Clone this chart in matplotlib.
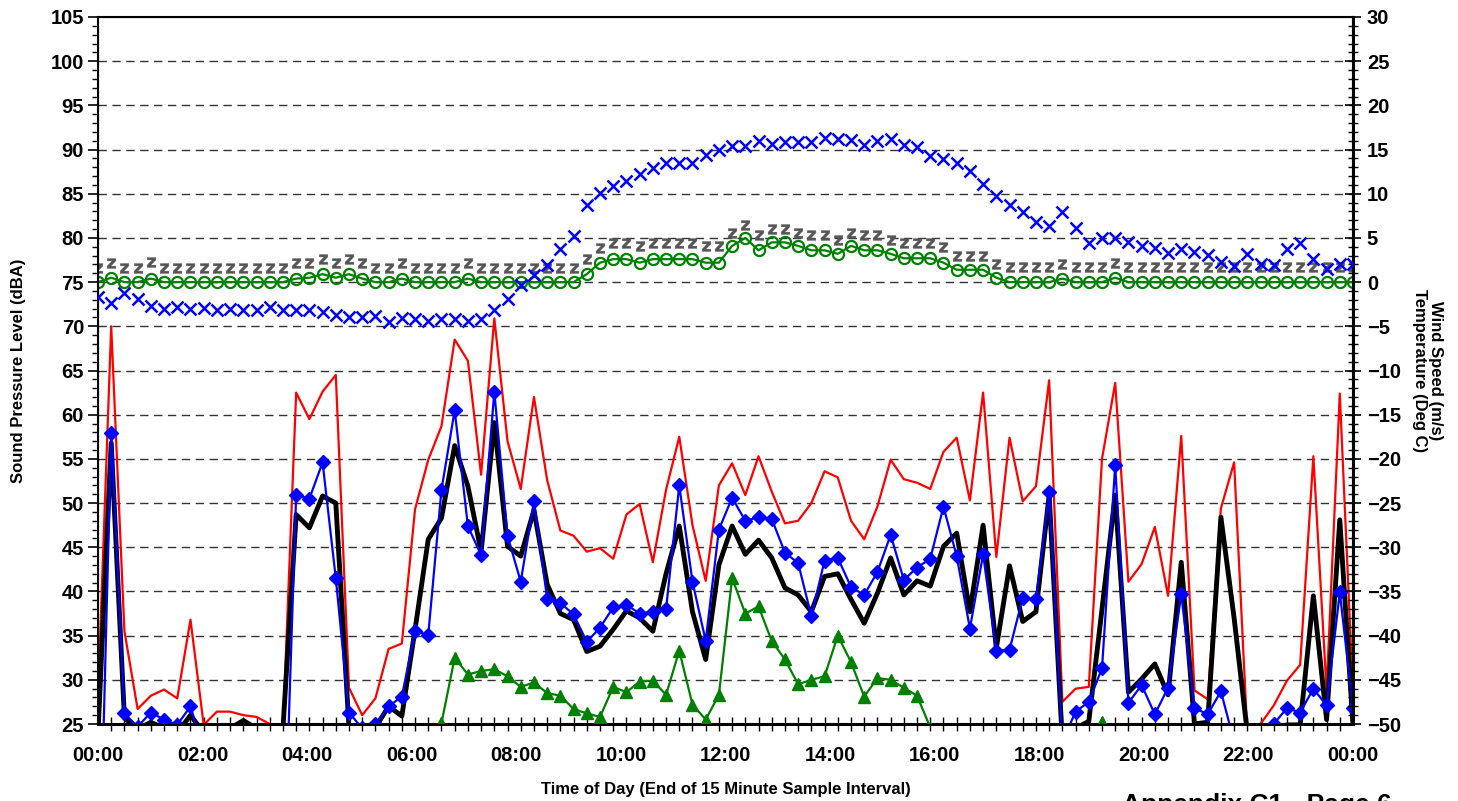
import numpy as np
import matplotlib.pyplot as plt
from matplotlib.ticker import MultipleLocator

plt.rcParams['font.family'] = ['Liberation Sans', 'DejaVu Sans']
plt.rcParams['font.weight'] = 'bold'
plt.rcParams['axes.labelweight'] = 'bold'

# x axis labels, every 2 hours (end of 15 minute interval)
tick_labels = ['00:00', '02:00', '04:00', '06:00', '08:00', '10:00', '12:00',
               '14:00', '16:00', '18:00', '20:00', '22:00', '00:00']

# sound levels (dBA), 96 samples
lmax = [28.1, 70.0, 35.5, 26.7, 28.2, 28.9, 27.9, 36.8, 24.9, 26.4, 26.4, 26.0,
        25.8, 25.0, 24.4, 62.5, 59.5, 62.6, 64.5, 29.1, 26.0, 27.9, 33.5, 34.1,
        49.3, 54.9, 58.7, 68.5, 66.1, 53.2, 70.9, 57.0, 51.6, 62.0, 52.6, 46.9,
        46.3, 44.5, 44.9, 43.7, 48.7, 49.9, 43.3, 51.5, 57.5, 47.5, 41.2, 52.0,
        54.5, 50.9, 55.3, 51.3, 47.7, 48.0, 50.0, 53.6, 52.9, 48.0, 45.9, 49.6,
        54.9, 52.7, 52.3, 51.6, 55.8, 57.4, 50.3, 62.5, 43.9, 57.4, 50.2, 51.9,
        63.9, 27.5, 29.0, 29.2, 55.0, 63.6, 41.1, 43.1, 47.3, 39.5, 57.6, 28.8,
        27.8, 49.4, 54.6, 24.0, 25.0, 27.1, 29.9, 31.7, 55.3, 28.8, 62.4, 28.5]

leq = [0.0, 57.9, 26.2, 24.7, 26.3, 25.5, 24.9, 27.0, 22.0, 0.0, 0.0, 0.0,
       0.0, 0.0, 5.0, 50.9, 50.5, 54.6, 41.5, 26.3, 24.5, 25.0, 27.0, 28.1,
       35.5, 35.1, 51.5, 60.5, 47.4, 44.1, 62.6, 46.3, 41.1, 50.2, 39.2, 38.7,
       37.4, 34.3, 35.9, 38.2, 38.5, 37.5, 37.7, 38.0, 52.0, 41.1, 34.4, 47.0,
       50.6, 48.0, 48.4, 48.2, 44.4, 43.2, 37.2, 43.5, 43.8, 40.5, 39.6, 42.2,
       46.4, 41.3, 42.7, 43.7, 49.6, 44.0, 35.8, 44.2, 33.3, 33.4, 39.3, 39.1,
       51.2, 23.0, 26.4, 27.5, 31.3, 54.3, 27.4, 29.4, 26.1, 29.1, 39.7, 26.8,
       26.1, 28.7, 23.0, 15.0, 23.0, 25.0, 26.8, 26.3, 29.0, 27.1, 39.9, 26.8]

l10 = [24.0, 56.8, 25.7, 24.4, 25.2, 24.5, 24.0, 26.0, 24.0, 24.2, 24.5, 25.4,
       24.5, 24.0, 24.5, 48.7, 47.2, 50.8, 50.0, 24.6, 24.5, 24.6, 27.0, 25.9,
       35.7, 45.9, 48.3, 56.5, 51.9, 44.5, 59.1, 45.1, 44.0, 49.2, 40.8, 37.5,
       36.8, 33.2, 33.8, 35.7, 37.8, 37.0, 35.5, 42.0, 47.4, 37.7, 32.3, 43.0,
       47.4, 44.2, 45.8, 43.8, 40.4, 39.6, 37.7, 41.7, 42.0, 39.1, 36.4, 39.8,
       43.8, 39.6, 41.2, 40.6, 45.1, 46.6, 37.7, 47.5, 33.6, 42.9, 36.6, 37.7,
       50.9, 23.0, 24.5, 25.3, 38.0, 50.9, 28.6, 30.1, 31.8, 28.3, 43.3, 25.0,
       25.2, 48.4, 37.0, 24.0, 23.0, 24.6, 24.9, 24.9, 39.5, 25.5, 48.1, 24.8]

l90 = [20.0, 20.0, 20.0, 20.0, 20.0, 20.0, 20.0, 20.0, 20.0, 20.0, 20.0, 20.0,
       20.0, 20.0, 20.0, 20.0, 20.0, 20.0, 20.0, 20.0, 20.0, 20.0, 20.0, 20.0,
       20.0, 22.0, 25.1, 32.5, 30.6, 31.0, 31.2, 30.4, 29.2, 29.7, 28.5, 28.2,
       26.7, 26.2, 25.8, 29.2, 28.6, 29.8, 29.9, 28.3, 33.3, 27.2, 25.5, 28.3,
       41.5, 37.5, 38.3, 34.4, 32.3, 29.5, 30.0, 30.4, 35.0, 32.0, 28.1, 30.2,
       30.0, 29.1, 28.2, 24.6, 20.0, 20.0, 20.0, 20.0, 20.0, 20.0, 20.0, 20.0,
       20.0, 20.0, 20.0, 23.0, 25.2, 23.0, 20.0, 20.0, 20.0, 20.0, 20.0, 20.0,
       20.0, 20.0, 20.0, 20.0, 20.0, 20.0, 20.0, 20.0, 20.0, 20.0, 20.0, 20.0]

# weather (right axis)
temp = [-1.7, -2.4, -1.2, -1.9, -2.7, -3.0, -2.8, -3.0, -2.9, -3.1, -3.0, -3.1,
        -3.1, -2.8, -3.1, -3.1, -3.2, -3.4, -3.7, -3.9, -4.0, -3.8, -4.5, -4.1,
        -4.2, -4.4, -4.2, -4.2, -4.4, -4.2, -3.1, -1.9, -0.3, 0.8, 1.9, 3.7,
        5.2, 8.7, 10.1, 10.9, 11.4, 12.2, 12.9, 13.5, 13.5, 13.5, 14.4, 14.9,
        15.4, 15.4, 16.0, 15.6, 15.8, 15.8, 15.8, 16.3, 16.2, 16.1, 15.5, 16.0,
        16.2, 15.5, 15.3, 14.3, 13.9, 13.5, 12.6, 11.1, 9.7, 8.7, 7.9, 6.8,
        6.4, 7.9, 6.1, 4.4, 5.0, 5.0, 4.5, 4.1, 3.9, 3.3, 3.8, 3.4,
        3.1, 2.3, 1.8, 3.2, 2.0, 1.9, 3.8, 4.4, 2.6, 1.5, 2.1, 2.0]

wind = [0.0, 0.5, 0.0, 0.0, 0.4, 0.0, 0.0, 0.0, 0.0, 0.0, 0.0, 0.0,
        0.0, 0.0, 0.0, 0.4, 0.5, 0.9, 0.5, 0.9, 0.4, 0.0, 0.0, 0.4,
        0.0, 0.0, 0.0, 0.0, 0.4, 0.0, 0.0, 0.0, 0.0, 0.0, 0.0, 0.0,
        0.0, 0.9, 2.2, 2.6, 2.6, 2.2, 2.6, 2.6, 2.6, 2.6, 2.2, 2.2,
        4.1, 5.0, 3.6, 4.5, 4.5, 4.1, 3.6, 3.6, 3.2, 4.1, 3.6, 3.6,
        3.2, 2.7, 2.7, 2.7, 2.2, 1.4, 1.4, 1.4, 0.5, 0.0, 0.0, 0.0,
        0.0, 0.4, 0.0, 0.0, 0.0, 0.5, 0.0, 0.0, 0.0, 0.0, 0.0, 0.0,
        0.0, 0.0, 0.0, 0.0, 0.0, 0.0, 0.0, 0.0, 0.0, 0.0, 0.0, 0.0]

wind_z = [1.6, 2.2, 1.6, 1.6, 2.3, 1.6, 1.6, 1.6, 1.6, 1.6, 1.6, 1.6,
          1.6, 1.6, 1.6, 2.2, 2.2, 2.6, 2.2, 2.6, 2.2, 1.6, 1.6, 2.2,
          1.6, 1.6, 1.6, 1.6, 2.2, 1.6, 1.6, 1.6, 1.6, 1.6, 1.6, 1.6,
          1.6, 2.6, 3.9, 4.4, 4.4, 4.1, 4.4, 4.4, 4.4, 4.4, 4.1, 4.1,
          5.6, 6.5, 5.3, 6.0, 6.0, 5.6, 5.3, 5.3, 4.8, 5.6, 5.3, 5.3,
          4.8, 4.4, 4.4, 4.4, 4.0, 3.0, 3.0, 3.0, 2.1, 1.7, 1.7, 1.7,
          1.7, 2.1, 1.7, 1.7, 1.7, 2.2, 1.7, 1.7, 1.7, 1.7, 1.7, 1.7,
          1.7, 1.7, 1.7, 1.7, 1.7, 1.7, 1.7, 1.7, 1.7, 1.7, 1.7, 1.7]

x = np.arange(len(leq))

W, H = 1458, 801
fig = plt.figure(figsize=(W / 100, H / 100), dpi=100)
ax = fig.add_axes([98 / W, 1 - 724 / H, (1353 - 98) / W, (724 - 17) / H])

# grid
for yv in range(30, 105, 5):
    ax.axhline(yv, color='#333333', lw=1.0, ls=(0, (6, 4)), zorder=0)

ax.plot(x, lmax, color='#ff0000', lw=1.6, zorder=2)
ax.plot(x, l10, color='black', lw=3.5, zorder=3)
ax.plot(x, leq, color='#0000ff', lw=1.6, marker='D', ms=7, zorder=4)
ax.plot(x, l90, color='#008000', lw=1.6, marker='^', ms=8.5, zorder=5)

ax.set_xlim(0, len(x) - 1)
ax.set_ylim(25, 105)
ax.yaxis.set_major_locator(MultipleLocator(5))
ax.yaxis.set_minor_locator(MultipleLocator(1))
ax.tick_params(axis='y', which='major', direction='out', length=7, width=1.2,
               labelsize=14.5, pad=3)
ax.tick_params(axis='y', which='minor', direction='out', length=4, width=1)

ax.set_xticks(np.linspace(0, len(x) - 1, len(tick_labels)))
ax.set_xticklabels(tick_labels)
ax.xaxis.set_minor_locator(MultipleLocator(1))
ax.tick_params(axis='x', which='major', length=0, labelsize=14.5, pad=16)
ax.tick_params(axis='x', which='minor', direction='inout', length=10, width=1)

for sp in ax.spines.values():
    sp.set_linewidth(1.5)
ax.spines['bottom'].set_linewidth(2.2)

ax.set_ylabel('Sound Pressure Level (dBA)', fontsize=12, fontweight='bold',
              labelpad=18)
ax.set_xlabel('Time of Day (End of 15 Minute Sample Interval)', fontsize=12,
              fontweight='bold', labelpad=12)

ax2 = ax.twinx()
ax2.set_ylim(-50, 30)
ax2.plot(x, temp, ls='none', marker='x', color='#0000ff', ms=8, mew=1.8, zorder=3)
ax2.plot(x, wind, color='#008000', lw=1.6, marker='o', ms=8, mfc='none',
         mew=1.6, zorder=2)
ax2.plot(x, wind_z, ls='none', marker='$\\mathsf{z}$', color='#555555', ms=7,
         mew=0.3, zorder=1)
ax2.yaxis.set_major_locator(MultipleLocator(5))
ax2.yaxis.set_minor_locator(MultipleLocator(1))
ax2.tick_params(axis='y', which='major', direction='inout', length=12, width=1.2,
                labelsize=14.5, pad=4)
ax2.tick_params(axis='y', which='minor', direction='inout', length=7, width=1)
ax2.spines['right'].set_linewidth(2.2)
ax2.set_ylabel('Wind Speed (m/s)\nTemperature (Deg C)', fontsize=12,
               fontweight='bold', rotation=270, labelpad=30, linespacing=1.1)

fig.text(1122 / W, 1 - 812 / H, 'Appendix C1 - Page 6', fontsize=19,
         fontweight='bold', ha='left', va='baseline')

fig.savefig('out.png', dpi=100)
